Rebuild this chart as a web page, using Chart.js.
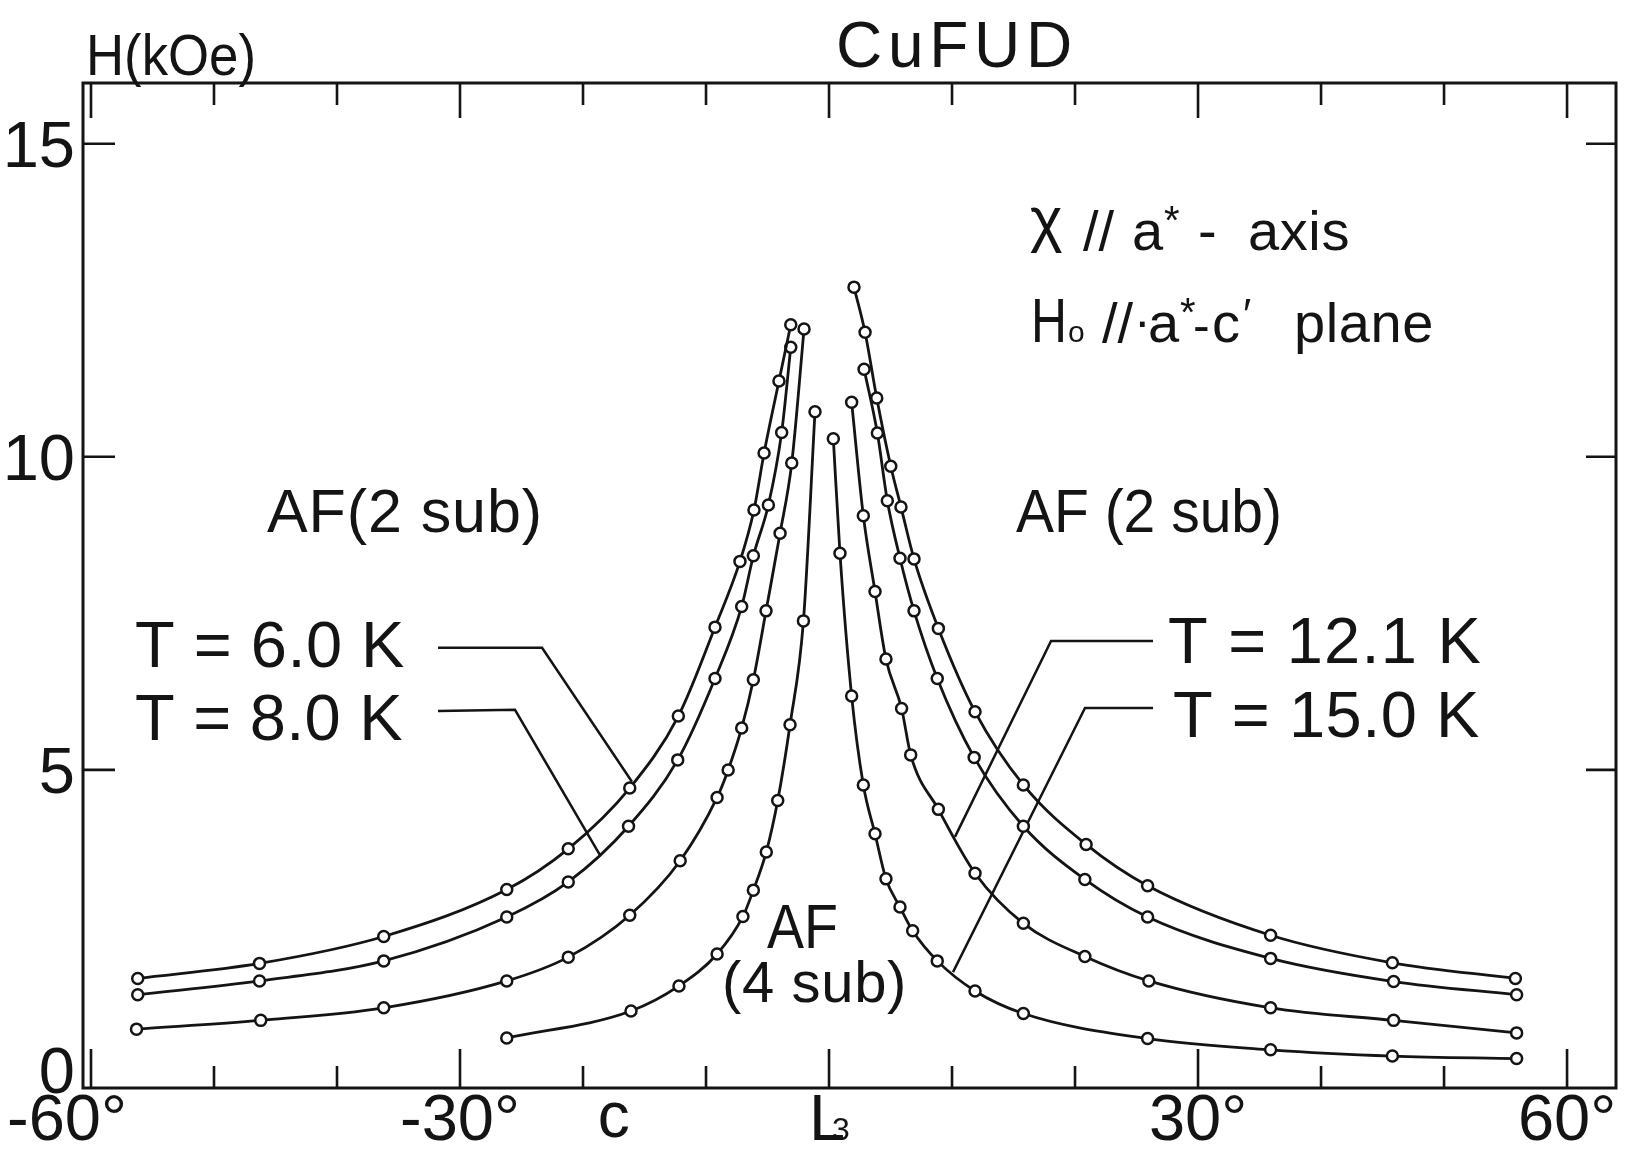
<!DOCTYPE html>
<html>
<head>
<meta charset="utf-8">
<title>CuFUD</title>
<script src="https://cdn.jsdelivr.net/npm/chart.js@4.4.0/dist/chart.umd.min.js"></script>
<style>
  html, body { margin: 0; padding: 0; background: #ffffff; }
  #wrap { width: 1625px; height: 1149px; position: relative; }
  canvas { display: block; }
</style>
</head>
<body>
<div id="wrap"><canvas id="c" width="1625" height="1149"></canvas></div>
<script>
// ---------------- data (angle in degrees, field H in kOe) ----------------
const t6LeftDeg   = [-56.2, -46.3, -36.2, -26.2, -21.2, -16.2, -12.25, -9.27, -7.24, -6.1, -5.28, -4.07, -3.11];
const t6LeftH     = [1.67, 1.91, 2.34, 3.09, 3.74, 4.71, 5.86, 7.28, 8.33, 9.15, 10.06, 11.21, 12.11];
const t6RightDeg  = [2.03, 2.93, 3.88, 5.02, 5.85, 6.91, 8.89, 11.87, 15.8, 20.9, 25.9, 35.9, 45.8, 55.8];
const t6RightH    = [12.71, 11.99, 10.94, 9.85, 9.20, 8.37, 7.26, 5.93, 4.76, 3.81, 3.15, 2.36, 1.92, 1.67];

const t8LeftDeg   = [-56.2, -46.3, -36.2, -26.2, -21.2, -16.3, -12.3, -9.27, -7.1, -6.15, -4.93, -3.85, -3.11];
const t8LeftH     = [1.41, 1.63, 1.95, 2.65, 3.21, 4.10, 5.16, 6.46, 7.61, 8.42, 9.23, 10.39, 11.75];
const t8RightDeg  = [2.85, 3.93, 4.74, 5.77, 6.91, 8.8, 11.8, 15.8, 20.8, 25.9, 35.9, 45.9, 55.9];
const t8RightH    = [11.40, 10.38, 9.30, 8.38, 7.54, 6.46, 5.20, 4.10, 3.25, 2.65, 1.99, 1.62, 1.41];

const t121LeftDeg  = [-56.3, -46.2, -36.2, -26.2, -21.2, -16.2, -12.1, -9.1, -8.2, -7.1, -6.15, -5.12, -3.98, -3.03, -2.03];
const t121LeftH    = [0.86, 1.00, 1.20, 1.63, 2.01, 2.68, 3.55, 4.56, 5.00, 5.67, 6.44, 7.54, 8.78, 9.90, 12.04];
const t121RightDeg = [1.84, 2.79, 3.74, 4.63, 5.9, 6.64, 8.89, 11.87, 15.8, 20.8, 26.0, 35.9, 45.9, 55.9];
const t121RightH   = [10.87, 9.06, 7.85, 6.77, 5.98, 5.24, 4.37, 3.35, 2.55, 2.02, 1.63, 1.20, 1.00, 0.80];

const t15LeftDeg  = [-26.2, -16.1, -12.2, -9.1, -7.0, -6.15, -5.1, -4.17, -3.17, -2.08, -1.14];
const t15LeftH    = [0.72, 1.15, 1.55, 2.06, 2.66, 3.08, 3.69, 4.51, 5.72, 7.38, 10.72];
const t15RightDeg = [0.35, 0.89, 1.84, 2.79, 3.74, 4.63, 5.77, 6.8, 8.8, 11.87, 15.8, 25.9, 35.9, 45.8, 55.9];
const t15RightH   = [10.29, 8.46, 6.18, 4.76, 3.98, 3.26, 2.81, 2.43, 1.95, 1.47, 1.11, 0.71, 0.53, 0.43, 0.39];

// axis ticks / labels
const xTickValues = [-60, -50, -40, -30, -20, -10, 0, 10, 20, 30, 40, 50, 60];
const xLabelValues = [-60, -30, 30, 60];
const xLabelTexts  = ['-60°', '-30°', '30°', '60°'];
const yTickValues  = [0, 5, 10, 15];
const yLabelTexts  = ['0', '5', '10', '15'];

// ---------------- chart ----------------
const branches = [
  [t6LeftDeg, t6LeftH], [t6RightDeg, t6RightH],
  [t8LeftDeg, t8LeftH], [t8RightDeg, t8RightH],
  [t121LeftDeg, t121LeftH], [t121RightDeg, t121RightH],
  [t15LeftDeg, t15LeftH], [t15RightDeg, t15RightH]
];

const INK = '#141414';
const FONT = '"Liberation Sans", Arial, sans-serif';

function fitText(ctx, s, x, y, size, W) {
  ctx.font = size + 'px ' + FONT;
  ctx.letterSpacing = '0px';
  const w = ctx.measureText(s).width;
  if (!W || Math.abs(W - w) < 1) { ctx.fillText(s, x, y); return; }
  if (W > w && s.length > 1 && ('letterSpacing' in ctx)) {
    ctx.letterSpacing = ((W - w) / s.length).toFixed(2) + 'px';
    ctx.fillText(s, x, y);
    ctx.letterSpacing = '0px';
  } else {
    ctx.save();
    ctx.translate(x, y);
    ctx.scale(W / w, 1);
    ctx.fillText(s, 0, 0);
    ctx.restore();
  }
}

const framePlugin = {
  id: 'frame',
  beforeDatasetsDraw(chart) {
    const ctx = chart.ctx;
    const xs = chart.scales.x, ys = chart.scales.y;
    const a = chart.chartArea;
    ctx.save();
    ctx.strokeStyle = INK;
    ctx.lineCap = 'butt';
    // frame
    ctx.lineWidth = 3;
    ctx.strokeRect(a.left, a.top, a.right - a.left, a.bottom - a.top);
    // x ticks (inward, top and bottom)
    ctx.lineWidth = 2.6;
    xTickValues.forEach(v => {
      const px = xs.getPixelForValue(v);
      const long = (v % 30 === 0);
      ctx.beginPath();
      ctx.moveTo(px, a.bottom);
      ctx.lineTo(px, a.bottom - (long ? 39 : 22));
      ctx.moveTo(px, a.top);
      ctx.lineTo(px, a.top + (long ? 35 : 22));
      ctx.stroke();
    });
    // y ticks (inward, left and right)
    yTickValues.filter(v => v > 0).forEach(v => {
      const py = ys.getPixelForValue(v);
      ctx.beginPath();
      ctx.moveTo(a.left, py);
      ctx.lineTo(a.left + 32, py);
      ctx.moveTo(a.right, py);
      ctx.lineTo(a.right - 30, py);
      ctx.stroke();
    });
    // leader lines for the temperature labels (in data coordinates)
    const leaders = [
      [[-31.79, 6.95], [-23.33, 6.95], [-16.02, 4.81]],
      [[-31.79, 5.94], [-25.53, 5.96], [-18.62, 3.64]],
      [[26.34, 7.06], [18.05, 7.06], [10.24, 3.93]],
      [[26.34, 5.99], [20.81, 5.99], [10.08, 1.77]]
    ];
    ctx.lineWidth = 2.5;
    leaders.forEach(pts => {
      ctx.beginPath();
      pts.forEach((p, i) => {
        const px = xs.getPixelForValue(p[0]), py = ys.getPixelForValue(p[1]);
        if (i === 0) ctx.moveTo(px, py); else ctx.lineTo(px, py);
      });
      ctx.stroke();
    });
    ctx.restore();
  },
  afterDatasetsDraw(chart) {
    const ctx = chart.ctx;
    const xs = chart.scales.x, ys = chart.scales.y;
    ctx.save();
    ctx.fillStyle = INK;
    ctx.textBaseline = 'alphabetic';

    // y tick labels
    ctx.textAlign = 'right';
    ctx.font = '65px ' + FONT;
    yTickValues.forEach((v, i) => {
      let py = ys.getPixelForValue(v) + 23;
      if (v === 0) py -= 13;
      ctx.fillText(yLabelTexts[i], 75, py);
    });
    // x tick labels
    ctx.textAlign = 'center';
    xLabelValues.forEach((v, i) => {
      const shift = (v === -60) ? -24 : 0;
      ctx.fillText(xLabelTexts[i], xs.getPixelForValue(v) + shift, 1140);
    });
    ctx.font = '64px ' + FONT;
    ctx.fillText('c', xs.getPixelForValue(-17.5), 1137);
    ctx.textAlign = 'left';
    ctx.font = '65px ' + FONT;
    ctx.fillText('L', xs.getPixelForValue(0) - 20, 1140);
    ctx.font = '32px ' + FONT;
    ctx.fillText('3', xs.getPixelForValue(0) + 3, 1140);

    // axis title and chart title
    fitText(ctx, 'H(kOe)', 86, 75, 57, 170);
    fitText(ctx, 'CuFUD', 836, 67, 64, 242);

    // region labels
    fitText(ctx, 'AF(2 sub)', 267, 532, 61, 276);
    fitText(ctx, 'AF (2 sub)', 1016, 532, 61, 266);
    fitText(ctx, 'AF', 767, 948, 63, 71);
    fitText(ctx, '(4 sub)', 722, 1002, 58, 185);

    // temperature labels
    fitText(ctx, 'T = 6.0 K', 135, 667, 65, 270);
    fitText(ctx, 'T = 8.0 K', 135, 740, 65, 268);
    fitText(ctx, 'T = 12.1 K', 1168, 663, 65, 314);
    fitText(ctx, 'T = 15.0 K', 1173, 737, 65, 307);

    // condition labels, row 1: χ // a* - axis
    fitText(ctx, 'χ', 1030, 240, 62);
    fitText(ctx, '//', 1083, 250, 56);
    fitText(ctx, 'a', 1132, 250, 56);
    fitText(ctx, '*', 1164, 234, 40);
    fitText(ctx, '-', 1198, 250, 56);
    fitText(ctx, 'axis', 1248, 250, 56, 102);
    // row 2: H0 // a*-c' plane
    fitText(ctx, 'H', 1031, 342, 63, 36);
    fitText(ctx, 'o', 1068, 342, 30);
    fitText(ctx, '//', 1102, 342, 56);
    fitText(ctx, '·', 1134, 338, 50);
    fitText(ctx, 'a', 1148, 342, 56);
    fitText(ctx, '*', 1180, 326, 40);
    fitText(ctx, '-', 1193, 342, 50);
    fitText(ctx, 'c', 1212, 342, 56);
    fitText(ctx, '′', 1243, 330, 44);
    fitText(ctx, 'plane', 1294, 342, 56, 140);

    ctx.restore();
  }
};

new Chart(document.getElementById('c').getContext('2d'), {
  type: 'scatter',
  data: {
    datasets: branches.map(b => ({
      data: b[0].map((x, i) => ({ x: x, y: b[1][i] })),
      showLine: true,
      borderColor: INK,
      borderWidth: 2.8,
      cubicInterpolationMode: 'monotone',
      pointRadius: 5.5,
      pointBorderWidth: 2.5,
      pointBackgroundColor: '#ffffff',
      pointBorderColor: INK,
      fill: false,
      clip: false
    }))
  },
  options: {
    responsive: false,
    animation: false,
    devicePixelRatio: 1,
    events: [],
    layout: { padding: { left: 83, top: 83, right: 9, bottom: 61 } },
    plugins: { legend: { display: false }, tooltip: { enabled: false }, title: { display: false } },
    scales: {
      x: { type: 'linear', min: -60.65, max: 63.98, display: false },
      y: { type: 'linear', min: -0.08, max: 15.97, display: false }
    }
  },
  plugins: [framePlugin]
});
</script>
</body>
</html>
